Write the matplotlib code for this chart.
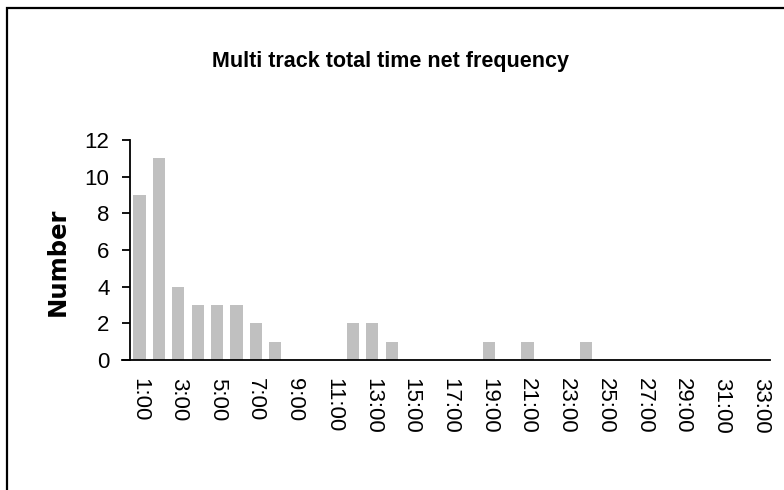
import matplotlib.pyplot as plt
from matplotlib.patches import Rectangle

# hours on the x axis, count per hour
hours = ["1:00", "2:00", "3:00", "4:00", "5:00", "6:00", "7:00", "8:00", "9:00", "10:00",
         "11:00", "12:00", "13:00", "14:00", "15:00", "16:00", "17:00", "18:00", "19:00", "20:00",
         "21:00", "22:00", "23:00", "24:00", "25:00", "26:00", "27:00", "28:00", "29:00", "30:00",
         "31:00", "32:00", "33:00"]
counts = [9, 11, 4, 3, 3, 3, 2, 1, 0, 0,
          0, 2, 2, 1, 0, 0, 0, 0, 1, 0,
          1, 0, 0, 1, 0, 0, 0, 0, 0, 0,
          0, 0, 0]
y_ticks = [0, 2, 4, 6, 8, 10, 12]

plain = ["Liberation Sans", "DejaVu Sans"]

fig = plt.figure(figsize=(7.84, 4.9), dpi=100)
ax = fig.add_axes([122 / 784, 1 - 360 / 490, (770 - 122) / 784, 220 / 490])

# spine position first: moving it resets the tick objects
for s in ["top", "right"]:
    ax.spines[s].set_visible(False)
ax.spines["left"].set_position(("data", -0.5))
ax.spines["left"].set_linewidth(1.3)
ax.spines["bottom"].set_linewidth(1.3)

pos = list(range(len(hours)))
ax.bar(pos, counts, width=0.63, color="#c0c0c0", zorder=2)

ax.set_xlim(-0.9, 32.5)
ax.set_ylim(0, 12)
ax.set_yticks(y_ticks)
ax.set_yticklabels([str(v) for v in y_ticks], family=plain, fontsize=16)
ax.set_xticks(pos[::2])
ax.set_xticklabels(hours[::2], rotation=-90, family=plain, fontsize=16, va="top", ha="center")
ax.tick_params(axis="y", length=6, width=1.3, pad=8.5)
ax.tick_params(axis="x", length=0, pad=13)

fig.text(390 / 784, 1 - 62 / 490, "Multi track total time net frequency",
         ha="center", va="center", fontsize=15.5, fontweight="bold", family=plain)
fig.text(58 / 784, 1 - 262 / 490, "Number", rotation=90, ha="center", va="center",
         fontsize=17.5, fontweight="bold", family="DejaVu Sans")

# frame of the chart area (left and top edges visible)
fig.patches.append(Rectangle((7 / 784, -0.1), 1.2, 1 - 8 / 490 + 0.1, transform=fig.transFigure,
                             fill=False, edgecolor="black", linewidth=1.6))

fig.savefig("out.png", dpi=100)
